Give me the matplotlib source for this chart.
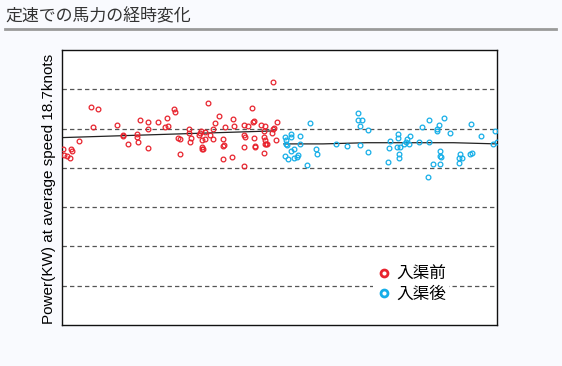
"""
Power at constant speed, before / after dry-docking (scatter + trend).
"""

import matplotlib
matplotlib.use("Agg")
import matplotlib.pyplot as plt
from matplotlib.lines import Line2D


# ============================================================ DATA
# x: elapsed time (0..100 of the plotted span), y: power in grid units
before_x = [0.3, 0.53, 1.07, 1.84, 1.99, 2.38, 3.91, 6.67, 8.35, 7.13,
            12.64, 13.95, 13.95, 15.17, 17.3, 17.3, 17.47, 18.0, 19.77, 19.77,
            19.85, 22.07, 23.6, 24.2, 24.3, 25.75, 25.98, 27.05, 26.74, 27.13,
            29.2, 29.27, 29.58, 29.5, 31.57, 31.72, 32.03, 32.18, 32.1, 32.18,
            32.41, 32.8, 32.95, 33.49, 34.02, 34.64, 34.64, 35.1, 36.0, 37.0,
            37.08, 37.08, 37.3, 37.55, 39.08, 39.39, 39.54, 41.84, 41.91, 41.76,
            42.07, 41.76, 42.76, 43.68, 43.83, 44.06, 44.21, 44.28, 44.44, 45.82,
            46.44, 46.51, 46.59, 46.74, 46.74, 46.44, 46.9, 47.13, 48.58, 48.35,
            48.8, 49.35, 49.12, 48.5]
before_y = [4.47, 4.34, 4.31, 4.24, 4.49, 4.43, 4.68, 5.55, 5.49, 5.04,
            5.08, 4.84, 4.80, 4.60, 4.85, 4.79, 4.65, 5.21, 5.18, 5.00,
            4.50, 5.17, 5.05, 5.28, 5.07, 5.49, 5.41, 4.36, 4.77, 4.73,
            5.00, 4.89, 4.75, 4.67, 4.83, 4.90, 4.94, 4.71, 4.54, 4.48,
            4.48, 4.92, 4.73, 5.65, 4.83, 5.00, 4.74, 5.15, 5.31, 4.22,
            4.74, 4.55, 4.58, 5.03, 4.28, 5.25, 5.07, 5.10, 4.05, 4.84,
            4.78, 4.53, 5.07, 5.52, 5.18, 5.19, 4.76, 4.52, 4.56, 5.08,
            4.78, 4.38, 4.71, 4.62, 5.06, 4.95, 4.61, 4.62, 5.00, 4.89,
            5.01, 5.18, 4.71, 6.18]

after_x = [51.2, 51.26, 51.5, 51.4, 51.8, 51.95, 52.6, 52.64, 52.7, 53.26,
           53.33, 54.1, 54.33, 54.64, 54.7, 56.4, 57.1, 58.5, 58.7, 63.1,
           65.6, 68.1, 68.0, 69.0, 68.4, 68.6, 70.4, 70.3, 75.0, 75.2,
           75.4, 77.2, 77.2, 77.5, 77.4, 77.1, 77.7, 78.6, 79.0, 79.4,
           79.8, 80.0, 82.0, 82.7, 84.2, 84.4, 84.4, 86.1, 86.2, 86.7,
           87.0, 87.0, 87.2, 85.4, 87.0, 87.8, 89.3, 91.3, 91.3, 91.6,
           91.9, 93.7, 94.3, 94.1, 96.4, 99.0, 99.6, 99.9]
after_y = [4.30, 4.79, 4.71, 4.61, 4.59, 4.23, 4.86, 4.78, 4.44, 4.48,
           4.25, 4.28, 4.33, 4.61, 4.80, 4.08, 5.14, 4.49, 4.35, 4.61,
           4.55, 5.39, 5.22, 5.22, 5.07, 4.59, 4.97, 4.40, 4.16, 4.51,
           4.69, 4.87, 4.76, 4.35, 4.24, 4.53, 4.53, 4.61, 4.67, 4.73,
           4.62, 4.81, 4.67, 5.04, 3.78, 5.21, 4.67, 4.95, 5.00, 5.09,
           4.43, 4.30, 4.27, 4.10, 4.11, 5.27, 4.88, 4.25, 4.12, 4.36,
           4.24, 4.35, 4.37, 5.11, 4.82, 4.61, 4.93, 4.67]

trend_before_x = [0.0, 48.5]
trend_before_y = [4.77, 4.94]
trend_after_x  = [51.0, 60.0, 70.0, 80.0, 90.0, 100.0]
trend_after_y  = [4.61, 4.61, 4.64, 4.64, 4.64, 4.61]

TITLE   = "定速での馬力の経時変化"
YLABEL  = "Power(KW) at average speed 18.7knots"
LABELS  = ["入渠前", "入渠後"]
RED, BLUE = "#e8232d", "#15aee8"
BG      = "#f9fafe"
JP_FONT = ["Noto Sans CJK JP", "DejaVu Sans"]


# ============================================================ FIGURE
fig = plt.figure(figsize=(5.62, 3.66), dpi=100, facecolor=BG)

fig.text(5 / 562, 1 - 16 / 366, TITLE, family=JP_FONT, fontsize=12.2,
         color="#333333", va="center", ha="left")
fig.add_artist(Line2D([5 / 562, 556 / 562], [1 - 29 / 366] * 2,
                      color="#9a9a9a", lw=2.0, transform=fig.transFigure))

ax = fig.add_axes([62 / 562, 41 / 366, 435 / 562, 275 / 366])
ax.set_facecolor("white")

for gy in range(1, 7):
    ax.axhline(gy, color="#555555", lw=0.9, ls=(0, (3.5, 2.5)), zorder=1)

ax.plot(trend_before_x, trend_before_y, color="#222222", lw=0.9, zorder=2)
ax.plot(trend_after_x, trend_after_y, color="#222222", lw=0.9, zorder=2)

ax.plot(before_x, before_y, ls="none", marker="o", ms=3.4, mfc="none",
        mec=RED, mew=0.9, zorder=3)
ax.plot(after_x, after_y, ls="none", marker="o", ms=3.4, mfc="none",
        mec=BLUE, mew=0.9, zorder=3)

ax.set_xlim(0, 100)
ax.set_ylim(0, 7)
ax.set_xticks([])
ax.set_yticks([])
for side in ax.spines.values():
    side.set_color("#111111")
    side.set_linewidth(1.0)

ax.set_ylabel(YLABEL, family="Liberation Sans", fontsize=11, labelpad=4)
ax.yaxis.set_label_coords(-0.014, 0.495)

handles = [Line2D([], [], ls="none", marker="o", ms=5, mfc="white",
                  mec=c, mew=2.0) for c in (RED, BLUE)]
leg = ax.legend(handles, LABELS, loc="center left",
                bbox_to_anchor=(0.695, 0.147), frameon=True,
                prop={"family": JP_FONT, "size": 12},
                handletextpad=0.2, handlelength=1.0, labelspacing=0.2,
                borderpad=0.2)
leg.get_frame().set_facecolor("white")
leg.get_frame().set_edgecolor("none")
leg.get_frame().set_alpha(1.0)
leg.get_frame().set_boxstyle("square", pad=0)

fig.savefig("out.png", dpi=100, facecolor=BG)
